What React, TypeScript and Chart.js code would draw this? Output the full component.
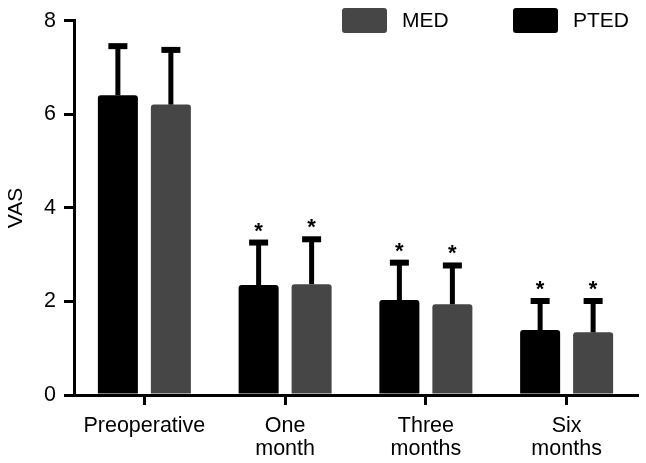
import React, { useEffect, useRef } from "react";
import { Chart, registerables } from "chart.js";

Chart.register(...registerables);

const CATEGORIES: (string | string[])[] = ["Preoperative", ["One", "month"], ["Three", "months"], ["Six", "months"]];
const PTED_MEAN = [6.41, 2.35, 2.03, 1.39];
const PTED_SD = [1.05, 0.91, 0.8, 0.62];
const MED_MEAN = [6.21, 2.37, 1.94, 1.34];
const MED_SD = [1.17, 0.96, 0.83, 0.67];
const SIGNIFICANT = [false, true, true, true];
const Y_TICKS = [0, 2, 4, 6, 8];

const FONT = "'Liberation Sans', Arial, Helvetica, sans-serif";
const BLACK = "#000000";
const GRAY = "#464646";

const SDS = [PTED_SD, MED_SD];

const errorBarPlugin = {
  id: "errorBarsAndLegend",
  afterDatasetsDraw(chart: any) {
    const ctx = chart.ctx;
    const y = chart.scales.y;
    ctx.save();
    chart.data.datasets.forEach((ds: any, di: number) => {
      const meta = chart.getDatasetMeta(di);
      meta.data.forEach((bar: any, i: number) => {
        const mean = ds.data[i];
        const sd = SDS[di][i];
        const base = y.getPixelForValue(mean);
        const top = y.getPixelForValue(mean + sd);
        ctx.fillStyle = BLACK;
        ctx.fillRect(bar.x - 2.5, top, 5, base - top);
        ctx.fillRect(bar.x - 9.5, top - 3, 19, 6);
        if (SIGNIFICANT[i]) {
          ctx.font = `bold 22px ${FONT}`;
          ctx.textAlign = "center";
          ctx.textBaseline = "alphabetic";
          ctx.fillText("*", bar.x, top - 17 + 12);
        }
      });
    });
    ctx.restore();
  },
  afterDraw(chart: any) {
    const ctx = chart.ctx;
    const area = chart.chartArea;
    const items = chart.data.datasets
      .map((ds: any) => ({ label: ds.label, color: ds.backgroundColor }))
      .reverse();
    ctx.save();
    let x = area.right - 295;
    items.forEach((it: any) => {
      ctx.fillStyle = it.color;
      ctx.beginPath();
      (ctx as any).roundRect(x, 8, 45, 25, 3);
      ctx.fill();
      ctx.fillStyle = BLACK;
      ctx.font = `21px ${FONT}`;
      ctx.textAlign = "left";
      ctx.textBaseline = "middle";
      ctx.fillText(it.label, x + 60, 21);
      x += 171;
    });
    ctx.restore();
  },
};

export default function App() {
  const ref = useRef<HTMLCanvasElement | null>(null);
  useEffect(() => {
    document.body.style.margin = "0";
    if (!ref.current) return;
    const chart = new Chart(ref.current, {
      type: "bar",
      data: {
        labels: CATEGORIES,
        datasets: [
          {
            label: "PTED",
            data: PTED_MEAN,
            backgroundColor: BLACK,
            borderRadius: 3,
            categoryPercentage: 0.753,
            barPercentage: 0.755,
          },
          {
            label: "MED",
            data: MED_MEAN,
            backgroundColor: GRAY,
            borderRadius: 3,
            categoryPercentage: 0.753,
            barPercentage: 0.755,
          },
        ],
      },
      options: {
        responsive: false,
        animation: false,
        devicePixelRatio: 1,
        layout: { padding: { top: 20, right: 9, left: 0, bottom: 0 } },
        plugins: {
          legend: { display: false },
          tooltip: { enabled: false },
        },
        scales: {
          x: {
            grid: {
              display: true,
              drawOnChartArea: false,
              drawTicks: true,
              tickLength: 10,
              lineWidth: 3,
              color: BLACK,
              offset: false,
            },
            border: { display: true, width: 3, color: BLACK },
            ticks: {
              color: BLACK,
              padding: 10,
              maxRotation: 0,
              autoSkip: false,
              font: { family: FONT, size: 21.5, lineHeight: 1.05 },
            },
            afterFit(scale: any) {
              scale.height = 68;
            },
          },
          y: {
            min: 0,
            max: 8,
            afterBuildTicks(scale: any) {
              scale.ticks = Y_TICKS.map((v) => ({ value: v }));
            },
            grid: {
              display: true,
              drawOnChartArea: false,
              drawTicks: true,
              tickLength: 10,
              lineWidth: 3,
              color: BLACK,
            },
            border: { display: true, width: 3, color: BLACK },
            ticks: {
              color: BLACK,
              padding: 8,
              font: { family: FONT, size: 21.5 },
            },
            title: {
              display: true,
              text: "VAS",
              color: BLACK,
              font: { family: FONT, size: 21 },
            },
            afterFit(scale: any) {
              scale.width = 74;
            },
          },
        },
      },
      plugins: [errorBarPlugin],
    });
    return () => chart.destroy();
  }, []);
  return (
    <div style={{ position: "absolute", left: 0, top: 0, width: 646, height: 463, background: "#fff" }}>
      <canvas ref={ref} width={646} height={463} />
    </div>
  );
}
